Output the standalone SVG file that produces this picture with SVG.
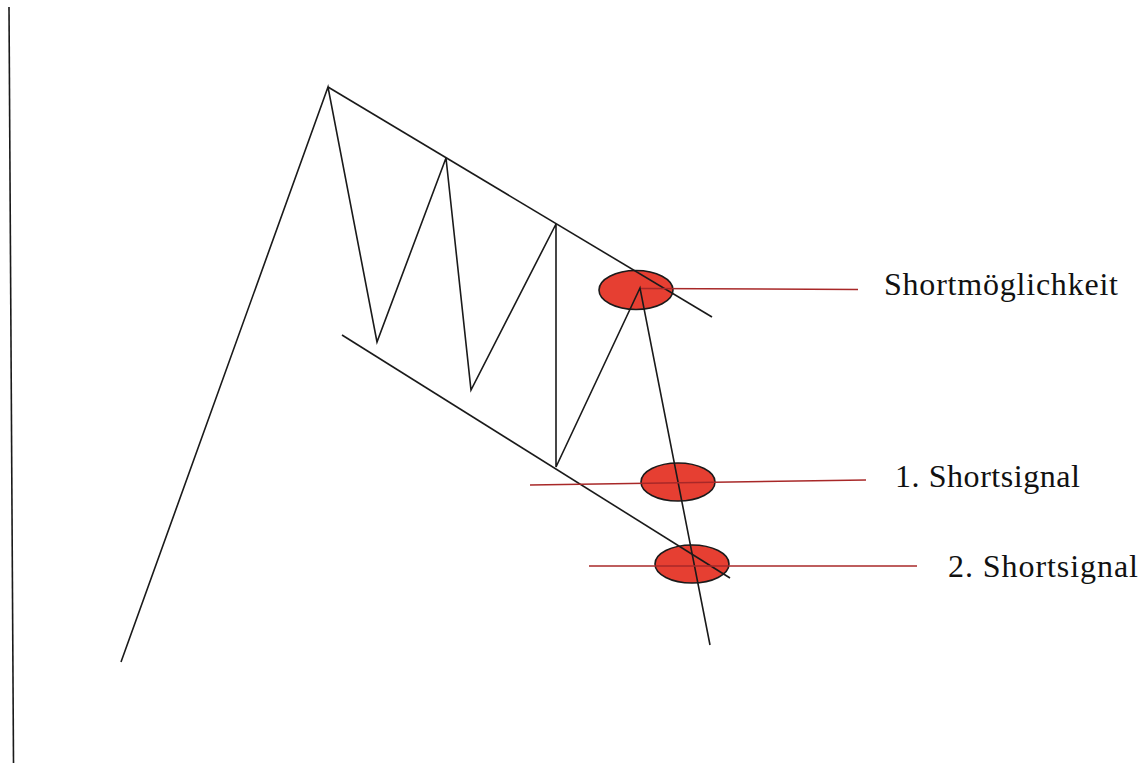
<svg xmlns="http://www.w3.org/2000/svg" width="1145" height="763" viewBox="0 0 1145 763">
<style>
.blk{fill:none;stroke:#1a1a1a;stroke-width:1.6;stroke-linejoin:miter}
.red{fill:none;stroke:#a82828;stroke-width:1.6}
.dot{fill:#e63f32;stroke:#1a1a1a;stroke-width:1.6}
.lbl{font-family:"Liberation Serif","Times New Roman",serif;font-size:32px;fill:#111}
</style>
<rect width="1145" height="763" fill="#fff"/>
<g id="signals">
<ellipse id="dot1" class="dot" cx="636" cy="290" rx="37" ry="19.5"/>
<ellipse id="dot2" class="dot" cx="678" cy="482" rx="37" ry="19"/>
<ellipse id="dot3" class="dot" cx="692" cy="564" rx="37" ry="19"/>
</g>
<g id="connectors">
<line class="blk" x1="9" y1="7" x2="13.5" y2="763"/>
<polyline class="blk" points="121,662 328,87 377,342 446,158 471,390 556,224 556,467 640,288 710,645"/>
<line class="blk" x1="328" y1="87" x2="712" y2="317"/>
<line class="blk" x1="342" y1="335" x2="730" y2="578"/>
<line class="red" x1="641" y1="288.5" x2="858" y2="289.5"/>
<line class="red" x1="530" y1="485" x2="866" y2="480"/>
<line class="red" x1="589" y1="566" x2="917" y2="566"/>
</g>
<g id="labels">
<text id="t1" class="lbl" x="884" y="295" textLength="234">Shortmöglichkeit</text>
<text id="t2" class="lbl" x="895" y="487" textLength="185">1. Shortsignal</text>
<text id="t3" class="lbl" x="948" y="577" textLength="190">2. Shortsignal</text>
</g>
</svg>
